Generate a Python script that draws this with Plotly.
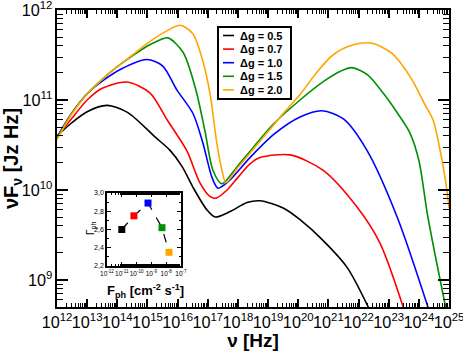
import plotly.graph_objects as go

# log10(nu [Hz]) / log10(nu F_nu [Jz Hz])
DG_LABELS = ["\u0394g = 0.5", "\u0394g = 0.7", "\u0394g = 1.0", "\u0394g = 1.5", "\u0394g = 2.0"]
COLORS = ["#000000", "#ff0000", "#0000ff", "#009000", "#ffa500"]

LX_05 = [12.0, 12.5, 13.0, 13.66, 14.35, 15.25, 15.75, 16.15, 16.51, 16.97, 17.24,
         17.74, 18.3, 18.73, 19.5, 20.06, 20.82, 21.62, 22.35]
LY_05 = [10.6, 10.75, 10.87, 10.94, 10.86, 10.59, 10.44, 10.26, 10.03, 9.78, 9.70,
         9.76, 9.86, 9.88, 9.80, 9.67, 9.44, 9.14, 8.68]

LX_07 = [12.0, 12.5, 13.0, 13.5, 14.32, 15.08, 15.65, 16.3, 16.74, 17.07, 17.28,
         17.64, 18.0, 18.4, 18.73, 19.73, 20.82, 21.95, 22.71, 23.5]
LY_07 = [10.59, 10.8, 11.0, 11.13, 11.2, 11.08, 10.78, 10.44, 10.08, 9.93, 9.91,
         10.0, 10.14, 10.29, 10.36, 10.39, 10.22, 9.81, 9.41, 8.68]

LX_10 = [12.0, 12.5, 13.0, 13.5, 14.16, 14.98, 15.5, 15.98, 16.51, 16.84, 17.14,
         17.34, 17.7, 18.4, 19.2, 20.06, 20.79, 21.5, 22.28, 23.28, 24.32]
LY_10 = [10.59, 10.86, 11.07, 11.21, 11.35, 11.45, 11.38, 11.11, 10.85, 10.52, 10.14,
         10.02, 10.1, 10.36, 10.62, 10.81, 10.88, 10.79, 10.44, 9.70, 8.68]

LX_15 = [12.0, 12.5, 13.0, 13.5, 14.0, 14.5, 15.0, 15.3, 15.68, 16.18, 16.6, 16.91,
         17.17, 17.47, 18.0, 18.5, 19.2, 20.06, 20.9, 21.4, 21.78, 22.3, 22.81,
         23.3, 23.71, 24.0, 24.3, 24.9]
LY_15 = [10.58, 10.86, 11.07, 11.23, 11.37, 11.49, 11.6, 11.65, 11.69, 11.53, 11.12,
         10.65, 10.22, 10.07, 10.27, 10.47, 10.74, 11.0, 11.22, 11.32, 11.36, 11.28,
         11.08, 10.85, 10.63, 10.33, 9.7, 8.68]

LX_20 = [12.0, 12.5, 13.0, 13.5, 14.0, 14.5, 15.0, 15.5, 16.08, 16.5, 16.78, 17.07,
         17.3, 17.47, 17.6, 18.0, 18.5, 19.0, 19.5, 20.06, 20.6, 21.15, 21.8, 22.45,
         23.1, 23.71, 24.2, 24.47, 24.77, 24.93, 25.0]
LY_20 = [10.56, 10.85, 11.07, 11.23, 11.37, 11.5, 11.63, 11.74, 11.83, 11.74, 11.5,
         11.08, 10.52, 10.22, 10.08, 10.25, 10.45, 10.65, 10.85, 11.06, 11.3, 11.5,
         11.61, 11.63, 11.52, 11.26, 10.95, 10.78, 10.33, 10.0, 9.8]

SERIES_LX = [LX_05, LX_07, LX_10, LX_15, LX_20]
SERIES_LY = [LY_05, LY_07, LY_10, LY_15, LY_20]

# inset: photon flux vs photon index
F_PH = [1.0e-11, 6.6e-11, 5.9e-10, 5.2e-9, 1.55e-8]
GAMMA_PH = [2.60, 2.75, 2.89, 2.62, 2.35]
INSET_XTICKS = [-12, -11, -10, -9, -8, -7]

W, H = 463, 351
ML, MR, MT, MB = 57, 14, 10, 44
PW, PH = W - ML - MR, H - MT - MB


def px(x):
    return (x - ML) / PW


def py(y):
    return (H - MB - y) / PH


FONT = "Liberation Sans, Arial, sans-serif"

fig = go.Figure()

for lx, ly, col in zip(SERIES_LX, SERIES_LY, COLORS):
    fig.add_trace(go.Scatter(
        x=[10 ** v for v in lx], y=[10 ** v for v in ly],
        mode="lines", line=dict(color=col, width=1.6, shape="spline", smoothing=0.8),
        showlegend=False, hoverinfo="skip",
    ))

fig.add_trace(go.Scatter(
    x=F_PH, y=GAMMA_PH, xaxis="x2", yaxis="y2",
    mode="lines+markers",
    line=dict(color="black", width=1.2, dash="dash"),
    marker=dict(symbol="square", size=7, color=COLORS, line=dict(width=0)),
    showlegend=False, hoverinfo="skip",
))

# hand-made legend box (compact like the original)
shapes = [dict(type="rect", xref="paper", yref="paper",
               x0=px(218), x1=px(291), y0=py(99), y1=py(27),
               line=dict(color="black", width=2), fillcolor="white", layer="above")]
annotations = []
for i, (lab, col) in enumerate(zip(DG_LABELS, COLORS)):
    yy = 35.5 + 13.6 * i
    shapes.append(dict(type="line", xref="paper", yref="paper",
                       x0=px(223), x1=px(234), y0=py(yy), y1=py(yy),
                       line=dict(color=col, width=1.6), layer="above"))
    annotations.append(dict(xref="paper", yref="paper", x=px(238), y=py(yy),
                            text=lab, showarrow=False, xanchor="left", yanchor="middle",
                            font=dict(size=11, color="black", family=FONT, weight="bold")))

annotations.append(dict(xref="paper", yref="paper", x=px(145), y=py(291),
                        text="F<sub>ph</sub> [cm<sup>-2</sup> s<sup>-1</sup>]",
                        showarrow=False, xanchor="center", yanchor="middle",
                        font=dict(size=13, color="black", family=FONT, weight="bold")))
annotations.append(dict(xref="paper", yref="paper", x=px(91), y=py(229),
                        text="\u0393<sub>ph</sub>", textangle=-90,
                        showarrow=False, xanchor="center", yanchor="middle",
                        font=dict(size=10, color="black", family=FONT)))

axis_common = dict(
    showline=True, linecolor="black", linewidth=2, mirror="allticks",
    ticks="inside", tickcolor="black", showgrid=False, zeroline=False,
    automargin=False, ticklabeloverflow="allow",
)

fig.update_layout(
    width=W, height=H,
    margin=dict(l=ML, r=MR, t=MT, b=MB, autoexpand=False),
    paper_bgcolor="white", plot_bgcolor="white",
    font=dict(family=FONT, color="black"),
    separators=", ",
    showlegend=False,
    xaxis=dict(
        type="log", range=[12, 25], dtick=1, exponentformat="power",
        ticklen=8, tickwidth=1.5, tickangle=0,
        minor=dict(ticks="inside", ticklen=4, tickcolor="black", tickwidth=1),
        tickfont=dict(size=13, family=FONT),
        title=dict(text="\u03bd [Hz]", font=dict(size=19, family=FONT, weight="bold"),
                   standoff=0),
        **axis_common,
    ),
    yaxis=dict(
        type="log", range=[8.7, 12], dtick=1, exponentformat="power",
        ticklen=11, tickwidth=1.5,
        minor=dict(ticks="inside", ticklen=6, tickcolor="black", tickwidth=1),
        tickfont=dict(size=13, family=FONT),
        title=dict(text="\u03bdF<sub>\u03bd</sub> [Jz Hz]",
                   font=dict(size=20, family=FONT, weight="bold"), standoff=0),
        **axis_common,
    ),
    xaxis2=dict(
        type="log", range=[-12, -7], domain=[px(107), px(181)], anchor="y2",
        tickvals=[10.0 ** v for v in INSET_XTICKS],
        ticktext=["10<sup>-%d</sup>" % -v for v in INSET_XTICKS],
        ticklen=4, tickwidth=1, tickangle=0,
        minor=dict(ticks="inside", ticklen=2, tickcolor="black", tickwidth=0.8),
        tickfont=dict(size=6.5, family=FONT),
        showline=True, linecolor="black", linewidth=1.5, mirror="allticks",
        ticks="inside", tickcolor="black", showgrid=False, zeroline=False,
        automargin=False, ticklabeloverflow="allow",
    ),
    yaxis2=dict(
        range=[2.2, 3.0], dtick=0.2, tickformat=".1f",
        domain=[py(266), py(193)], anchor="x2",
        ticklen=4, tickwidth=1,
        minor=dict(ticks="inside", ticklen=2, dtick=0.1, tickcolor="black", tickwidth=0.8),
        tickfont=dict(size=7, family=FONT),
        showline=True, linecolor="black", linewidth=1.5, mirror="allticks",
        ticks="inside", tickcolor="black", showgrid=False, zeroline=False,
        automargin=False, ticklabeloverflow="allow",
    ),
    shapes=shapes,
    annotations=annotations,
)

# the page's default body margin would shift the figure by 8px
fig.write_html("out.html", config={"displayModeBar": False},
               post_script="document.body.style.margin='0';")
